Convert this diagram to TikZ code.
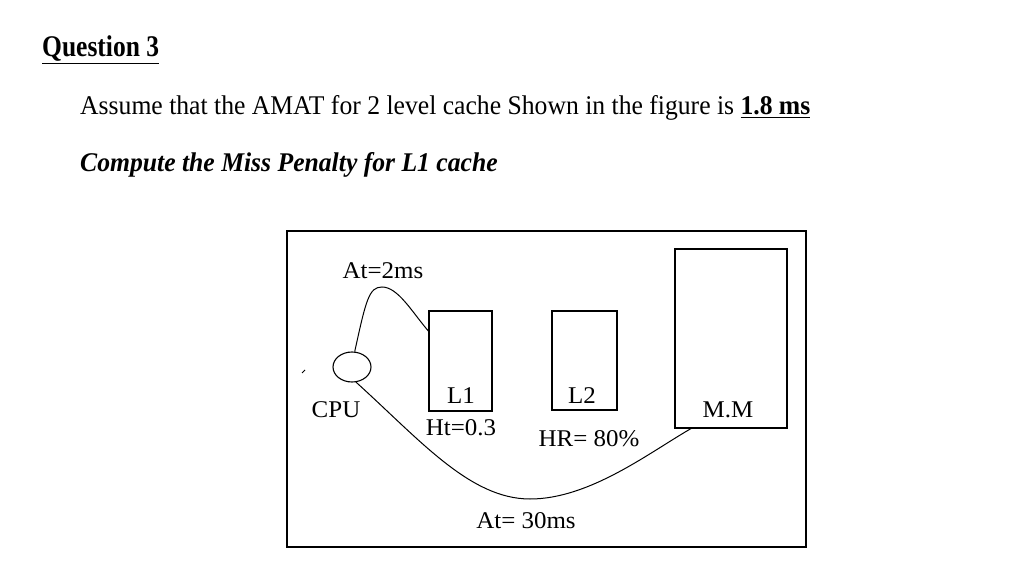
\documentclass[tikz,border=0pt]{standalone}
\usepackage{fontspec}
\setmainfont{Liberation Serif}
\usetikzlibrary{shapes.geometric}
\begin{document}
\begin{tikzpicture}[x=1pt,y=-1pt,
  box/.style={draw,line width=1.3pt},
  lbl/.style={inner sep=0pt,font=\fontsize{24}{26}\selectfont},
  txt/.style={inner sep=0pt,anchor=base west},
  wire/.style={line width=1pt}]
\useasboundingbox[fill=white] (0,0) rectangle (1020,569);
% header texts
\node[txt,font=\fontsize{30}{32}\selectfont\bfseries] (q) at (42,57) {\scalebox{0.85}[1]{\underline{Question 3}}};
\node[txt,font=\fontsize{27}{30}\selectfont] (s1) at (80,115) {\scalebox{0.95}[1]{Assume that the AMAT for 2 level cache Shown in the figure is \textbf{\underline{1.8 ms}}}};
\node[txt,font=\fontsize{27}{30}\selectfont\bfseries\itshape] (s2) at (80,172) {\scalebox{0.95}[1]{Compute the Miss Penalty for L1 cache}};
% frame
\draw[box] (287,231) rectangle (806,547);
% components
\node[draw,line width=1.1pt,ellipse,minimum width=38pt,minimum height=30pt,inner sep=0pt] (cpu) at (352,367) {};
\node[box,minimum width=63pt,minimum height=100pt,inner sep=0pt] (l1) at (460.5,361) {};
\node[box,minimum width=65pt,minimum height=99pt,inner sep=0pt] (l2) at (584.5,360.5) {};
\node[box,minimum width=112pt,minimum height=179pt,inner sep=0pt] (mm) at (731,338.5) {};
% labels
\node[lbl] (at2) at (383,271) {\scalebox{1.04}[1]{At=2ms}};
\node[lbl] (cpul) at (336,410) {\scalebox{1.04}[1]{CPU}};
\node[lbl] (l1l) at (461,396) {\scalebox{1.04}[1]{L1}};
\node[lbl] (l2l) at (582,396) {\scalebox{1.04}[1]{L2}};
\node[lbl] (mml) at (728,410) {\scalebox{1.04}[1]{M.M}};
\node[lbl] (ht) at (461,428) {\scalebox{1.04}[1]{Ht=0.3}};
\node[lbl] (hr) at (589,439) {\scalebox{1.04}[1]{HR= 80\%}};
\node[lbl] (at30) at (526,521) {\scalebox{1.04}[1]{At= 30ms}};
% connectors
\coordinate (p1) at (432,331);
\coordinate (p2) at (692,428);
\draw[wire] (cpu.80) .. controls (366,300) and (369,287) .. (382,287)
  .. controls (398,287) and (412,312) .. (l1.west |- p1);
\draw[wire] (cpu.-75) .. controls (420,440) and (470,499) .. (530,499)
  .. controls (590,499) and (650,452) .. (p2);
% stray tick
\coordinate (t1) at (302,373);
\coordinate (t2) at (305,370);
\draw[line width=1pt] (t1) -- (t2);
\end{tikzpicture}
\end{document}
